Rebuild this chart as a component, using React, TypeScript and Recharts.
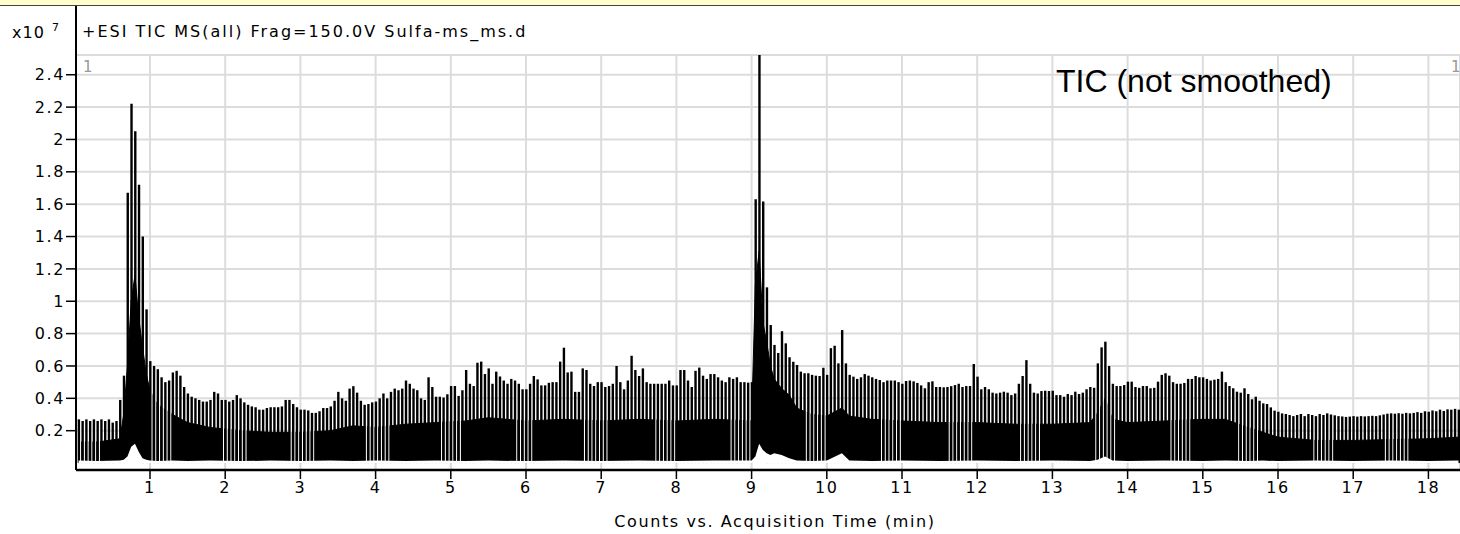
import { ComposedChart, Area, Bar, XAxis, YAxis, CartesianGrid } from 'recharts';

// scans are plotted every 0.05 min, starting at t = 0
const SCAN_STEP = 0.05;
const X_DOMAIN = [0.016, 18.42];
// the thin low scans sit half a scan after the high scans
const SPARSE_SHIFT = SCAN_STEP / 2;

// TIC scan maxima, x10^7 counts (20 scans per minute)
const ticMin0to2 = [
  null, 0.27, 0.26, 0.27, 0.26, 0.27, 0.26, 0.27, 0.26, 0.27, 0.25, 0.26, 0.39, 0.54, 1.67, 2.22, 2.05, 1.72, 1.4, 0.95,
  0.63, 0.6, 0.58, 0.53, 0.5, 0.51, 0.56, 0.57, 0.54, 0.47, 0.43, 0.41, 0.4, 0.39, 0.38, 0.38, 0.39, 0.44, 0.43, 0.39,
  0.39, 0.38, 0.39, 0.42, 0.4, 0.375, 0.36, 0.35, 0.345, 0.33, 0.33, 0.34, 0.345, 0.345, 0.345, 0.35, 0.39, 0.39, 0.365, 0.345,
];
const ticMin3to5 = [
  0.33, 0.33, 0.325, 0.31, 0.31, 0.32, 0.34, 0.34, 0.35, 0.385, 0.44, 0.4, 0.385, 0.46, 0.475, 0.435, 0.385, 0.36, 0.365, 0.375,
  0.38, 0.4, 0.43, 0.4, 0.44, 0.46, 0.45, 0.46, 0.51, 0.49, 0.46, 0.45, 0.4, 0.39, 0.53, 0.47, 0.41, 0.41, 0.405, 0.425,
  0.476, 0.476, 0.415, 0.45, 0.575, 0.49, 0.476, 0.62, 0.627, 0.55, 0.585, 0.49, 0.565, 0.535, 0.51, 0.49, 0.52, 0.51, 0.49, 0.456,
];
const ticMin6to8 = [
  0.456, 0.49, 0.538, 0.517, 0.48, 0.48, 0.496, 0.5, 0.5, 0.627, 0.713, 0.56, 0.565, 0.44, 0.44, 0.585, 0.575, 0.49, 0.476, 0.5,
  0.5, 0.47, 0.476, 0.49, 0.6, 0.5, 0.456, 0.51, 0.663, 0.575, 0.538, 0.585, 0.5, 0.49, 0.49, 0.49, 0.49, 0.49, 0.51, 0.48,
  0.48, 0.575, 0.575, 0.51, 0.47, 0.57, 0.59, 0.54, 0.52, 0.55, 0.55, 0.53, 0.51, 0.5, 0.53, 0.52, 0.53, 0.5, 0.5, 0.497,
];
const ticMin9to11 = [
  0.5, 1.63, 2.6, 1.616, 1.086, 0.853, 0.73, 0.68, 0.815, 0.74, 0.654, 0.626, 0.606, 0.565, 0.555, 0.555, 0.545, 0.54, 0.538, 0.589,
  0.545, 0.71, 0.725, 0.616, 0.822, 0.616, 0.545, 0.534, 0.52, 0.53, 0.55, 0.54, 0.53, 0.52, 0.513, 0.5, 0.51, 0.51, 0.51, 0.5,
  0.49, 0.507, 0.51, 0.505, 0.495, 0.48, 0.462, 0.5, 0.505, 0.47, 0.47, 0.468, 0.47, 0.475, 0.482, 0.49, 0.47, 0.476, 0.476, 0.612,
];
const ticMin12to14 = [
  0.534, 0.456, 0.47, 0.456, 0.435, 0.43, 0.435, 0.441, 0.435, 0.42, 0.43, 0.49, 0.538, 0.636, 0.49, 0.435, 0.43, 0.445, 0.447, 0.445,
  0.447, 0.42, 0.42, 0.41, 0.427, 0.42, 0.441, 0.427, 0.435, 0.456, 0.47, 0.465, 0.616, 0.715, 0.75, 0.6, 0.49, 0.476, 0.476, 0.482,
  0.503, 0.503, 0.47, 0.465, 0.476, 0.476, 0.462, 0.465, 0.503, 0.545, 0.555, 0.54, 0.5, 0.49, 0.49, 0.495, 0.52, 0.52, 0.538, 0.53,
];
const ticMin15to18 = [
  0.53, 0.52, 0.51, 0.515, 0.52, 0.565, 0.5, 0.476, 0.462, 0.441, 0.435, 0.462, 0.427, 0.394, 0.41, 0.385, 0.369, 0.365, 0.344, 0.324,
  0.317, 0.307, 0.303, 0.297, 0.29, 0.297, 0.303, 0.29, 0.303, 0.297, 0.29, 0.303, 0.297, 0.307, 0.3, 0.295, 0.29, 0.288, 0.285, 0.287,
  0.29, 0.287, 0.29, 0.288, 0.29, 0.292, 0.29, 0.295, 0.3, 0.305, 0.307, 0.305, 0.308, 0.305, 0.31, 0.307, 0.31, 0.315, 0.31, 0.32,
  0.317, 0.325, 0.32, 0.33, 0.322, 0.332, 0.33, 0.335, 0.33,
];

// envelope of the dense low scans (solid black band): its top and its bottom edge
const envTimes = [
  0.05, 0.3, 0.6, 0.65, 0.7, 0.75, 0.8, 0.85, 0.9, 0.95, 1.0, 1.1, 1.3, 1.5, 1.8, 2.2, 2.6, 3.0, 3.4, 3.7,
  4.0, 4.4, 4.8, 5.2, 5.5, 6.0, 6.5, 7.0, 7.5, 8.0, 8.5, 9.0, 9.05, 9.1, 9.15, 9.2, 9.25, 9.3, 9.4, 9.5,
  9.6, 9.8, 10.0, 10.2, 10.3, 10.6, 11.0, 11.5, 12.0, 12.5, 13.0, 13.5, 13.6, 13.7, 13.8, 14.0, 14.5, 15.0, 15.3, 15.6,
  15.8, 16.0, 16.5, 17.0, 17.5, 18.0, 18.4,
];
const envTop = [
  0.13, 0.13, 0.15, 0.3, 0.6, 1.0, 1.16, 0.9, 0.72, 0.55, 0.45, 0.36, 0.3, 0.25, 0.22, 0.2, 0.19, 0.19, 0.2, 0.23,
  0.22, 0.24, 0.25, 0.26, 0.28, 0.26, 0.27, 0.26, 0.27, 0.26, 0.27, 0.26, 1.1, 1.31, 0.87, 0.75, 0.6, 0.52, 0.46, 0.42,
  0.34, 0.3, 0.29, 0.34, 0.29, 0.27, 0.26, 0.25, 0.25, 0.24, 0.24, 0.25, 0.31, 0.4, 0.27, 0.25, 0.26, 0.27, 0.27, 0.22,
  0.19, 0.16, 0.14, 0.14, 0.145, 0.15, 0.16,
];
const envBase = [
  0.015, 0.012, 0.015, 0.02, 0.04, 0.1, 0.12, 0.07, 0.03, 0.02, 0.015, 0.012, 0.015, 0.012, 0.015, 0.012, 0.015, 0.012, 0.015, 0.012,
  0.015, 0.012, 0.015, 0.012, 0.015, 0.012, 0.015, 0.012, 0.015, 0.012, 0.015, 0.015, 0.04, 0.12, 0.08, 0.06, 0.05, 0.06, 0.05, 0.03,
  0.015, 0.012, 0.015, 0.06, 0.015, 0.012, 0.015, 0.012, 0.015, 0.012, 0.015, 0.012, 0.02, 0.04, 0.015, 0.012, 0.015, 0.012, 0.015, 0.012,
  0.015, 0.012, 0.015, 0.012, 0.015, 0.012, 0.015,
];

// time windows where the low scans thin out (white lines through the band)
const sparseWindows = [
  [0.05, 0.3], [1.0, 1.25], [1.95, 2.25], [2.85, 3.15], [3.85, 4.15], [4.85, 5.1], [5.85, 6.05],
  [6.75, 7.05], [7.7, 7.95], [8.7, 8.95], [9.7, 9.95], [10.7, 10.95], [11.6, 11.9], [12.55, 12.8],
  [13.55, 13.8], [14.55, 14.8], [15.45, 15.7], [16.45, 16.7], [17.4, 17.7],
];

const timeTicks = [1, 2, 3, 4, 5, 6, 7, 8, 9, 10, 11, 12, 13, 14, 15, 16, 17, 18];
const countTicks = [0.2, 0.4, 0.6, 0.8, 1, 1.2, 1.4, 1.6, 1.8, 2, 2.2, 2.4];

const scanValues = [...ticMin0to2, ...ticMin3to5, ...ticMin6to8, ...ticMin9to11, ...ticMin12to14, ...ticMin15to18];

const scanRows = scanValues.map((hi, i) => {
  const t = Math.round(i * SCAN_STEP * 100) / 100;
  const sparse = sparseWindows.some(([a, b]) => t >= a - 1e-6 && t <= b + 1e-6);
  return { t, hi, gap: sparse && hi != null ? hi : null };
});

const envRows = envTimes.map((t, i) => ({ t, top: envTop[i], base: envBase[i] }));

const smallFont = {
  fontSize: 16,
  fontFamily: 'DejaVu Sans',
  fill: '#000',
  letterSpacing: 1.6,
};

export default function App() {
  return (
    <div style={{ position: 'absolute', left: 0, top: 0, width: 1460, height: 534, background: '#fff', overflow: 'hidden' }}>
      <ComposedChart
        width={1460}
        height={534}
        data={scanRows}
        margin={{ top: 55, right: 0, bottom: 0, left: 0 }}
      >
        <CartesianGrid stroke="#dcdcdc" strokeWidth={2} />
        <XAxis
          dataKey="t"
          type="number"
          domain={X_DOMAIN}
          allowDataOverflow
          ticks={timeTicks}
          interval={0}
          height={64}
          tickSize={9}
          tickMargin={3}
          axisLine={{ stroke: '#000', strokeWidth: 2.5 }}
          tickLine={{ stroke: '#000', strokeWidth: 1.5 }}
          tick={smallFont}
          label={{
            value: 'Counts vs. Acquisition Time (min)',
            position: 'insideBottom',
            offset: 7,
            dx: 7,
            ...smallFont,
          }}
        />
        <XAxis
          xAxisId="sparse"
          dataKey="t"
          type="number"
          domain={[X_DOMAIN[0] - SPARSE_SHIFT, X_DOMAIN[1] - SPARSE_SHIFT]}
          allowDataOverflow
          hide
          height={64}
        />
        <YAxis
          type="number"
          domain={[-0.043, 2.522]}
          allowDataOverflow
          ticks={countTicks}
          interval={0}
          width={76}
          tickSize={10}
          tickMargin={1}
          axisLine={{ stroke: '#000', strokeWidth: 2 }}
          tickLine={{ stroke: '#000', strokeWidth: 1.5 }}
          tick={smallFont}
        />
        <Area
          data={envRows}
          dataKey="top"
          type="linear"
          fill="#000"
          fillOpacity={1}
          stroke="#000"
          strokeWidth={1}
          isAnimationActive={false}
        />
        <Bar xAxisId="sparse" dataKey="gap" fill="#fff" barSize={1.6} isAnimationActive={false} />
        <Bar dataKey="hi" fill="#000" barSize={2.4} isAnimationActive={false} />
        <Area
          data={envRows}
          dataKey="base"
          type="linear"
          fill="#fff"
          fillOpacity={1}
          stroke="none"
          isAnimationActive={false}
          zIndex={350}
        />
      </ComposedChart>

      <div style={{ position: 'absolute', left: 0, top: 0, width: 1460, height: 5, background: '#FFFFCC', borderBottom: '1px solid #444' }} />
      <div style={{ position: 'absolute', left: 75, top: 6, width: 2, height: 50, background: '#000' }} />
      <div style={{ position: 'absolute', left: 12, top: 25, fontSize: 16, lineHeight: 1, fontFamily: 'DejaVu Sans', letterSpacing: 1 }}>x10</div>
      <div style={{ position: 'absolute', left: 52, top: 22, fontSize: 11, lineHeight: 1, fontFamily: 'DejaVu Sans' }}>7</div>
      <div style={{ position: 'absolute', left: 82, top: 24, fontSize: 16, lineHeight: 1, fontFamily: 'DejaVu Sans', letterSpacing: 2, whiteSpace: 'nowrap' }}>
        +ESI TIC MS(all) Frag=150.0V Sulfa-ms_ms.d
      </div>
      <div style={{ position: 'absolute', left: 83, top: 60, fontSize: 15, lineHeight: 1, fontFamily: 'DejaVu Sans', color: '#999' }}>1</div>
      <div style={{ position: 'absolute', left: 1451, top: 60, fontSize: 15, lineHeight: 1, fontFamily: 'DejaVu Sans', color: '#999' }}>1</div>
      <div style={{ position: 'absolute', left: 1056, top: 65, fontSize: 32, lineHeight: 1, fontFamily: 'Liberation Sans', whiteSpace: 'nowrap' }}>
        TIC (not smoothed)
      </div>
    </div>
  );
}
